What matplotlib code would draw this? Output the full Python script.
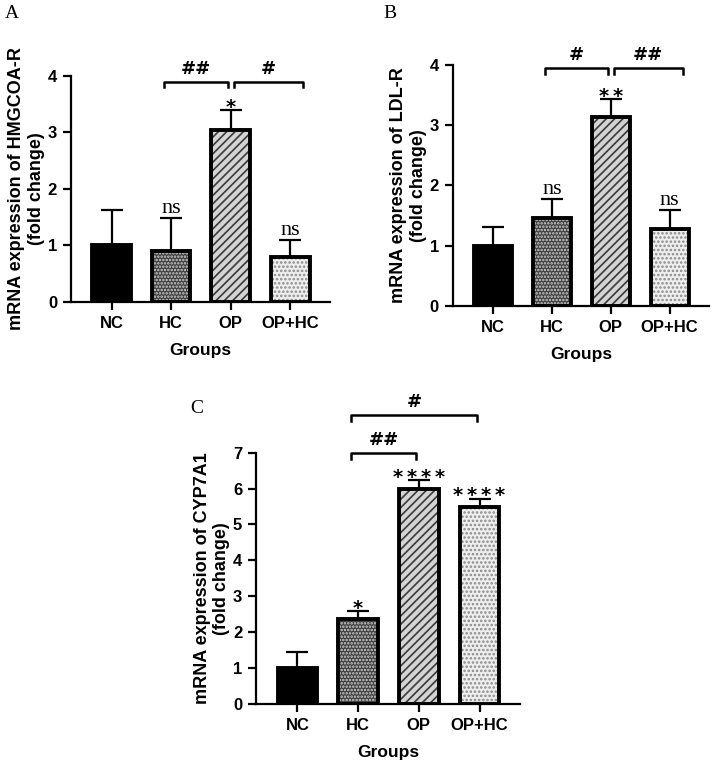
import matplotlib
matplotlib.use("Agg")
import matplotlib.pyplot as plt

plt.rcParams['font.family'] = ['Liberation Sans', 'DejaVu Sans']
plt.rcParams['hatch.linewidth'] = 1.2

groups = ['NC', 'HC', 'OP', 'OP+HC']

# panel A - HMGCOA-R
hmg_mean = [1.00, 0.91, 3.05, 0.80]
hmg_err = [0.62, 0.57, 0.34, 0.29]
hmg_marks = ['', 'ns', '*', 'ns']
hmg_brackets = [('HC', 'OP', '##', 3.9), ('OP', 'OP+HC', '#', 3.9)]

# panel B - LDL-R
ldl_mean = [1.00, 1.46, 3.13, 1.28]
ldl_err = [0.31, 0.31, 0.30, 0.31]
ldl_marks = ['', 'ns', '**', 'ns']
ldl_brackets = [('HC', 'OP', '#', 3.95), ('OP', 'OP+HC', '##', 3.95)]

# panel C - CYP7A1
cyp_mean = [1.00, 2.36, 6.00, 5.50]
cyp_err = [0.44, 0.23, 0.24, 0.22]
cyp_marks = ['', '*', '****', '****']
cyp_brackets = [('HC', 'OP', '##', 7.0), ('HC', 'OP+HC', '#', 8.05)]

faces = ['black', '#3e3e3e', '#d4d4d4', '#eeeeee']
hatch_cols = ['black', '#cfcfcf', '#3a3a3a', '#8a8a8a']
hatches = [None, '.....', '////', '....']


def draw_panel(ax, means, errs, marks, brackets, ymax, ylabel):
    x = list(range(len(groups)))
    w = 0.65
    ax.errorbar(x, means, yerr=[[0] * len(errs), errs], fmt='none',
                ecolor='black', elinewidth=1.6, capsize=8, capthick=1.6, zorder=1)
    for i in x:
        ax.bar(i, means[i], width=w, color=faces[i], edgecolor=hatch_cols[i],
               hatch=hatches[i], linewidth=0, zorder=2)
        ax.bar(i, means[i], width=w, fill=False, edgecolor='black',
               linewidth=2.8, zorder=3)
    for i in x:
        if marks[i] == '':
            continue
        top = means[i] + errs[i]
        if marks[i] == 'ns':
            ax.annotate('ns', (i, top), xytext=(0, 4), textcoords='offset points',
                        ha='center', va='baseline', fontsize=16, family='Liberation Serif')
        else:
            ax.annotate('\u2009'.join(marks[i]), (i, top), xytext=(0, -2),
                        textcoords='offset points', ha='center', va='baseline',
                        fontsize=14, fontweight='bold', family='DejaVu Sans')
    for a, b, lab, yb in brackets:
        i0 = groups.index(a) - 0.12
        i1 = groups.index(b) - 0.04
        if a == 'OP':
            i0 = groups.index(a) + 0.05
            i1 = groups.index(b) + 0.22
        h = ymax * 0.025
        ax.plot([i0, i0, i1, i1], [yb - h, yb, yb, yb - h], color='black',
                lw=1.8, clip_on=False, solid_joinstyle='round')
        ax.text((i0 + i1) / 2, yb + ymax * 0.015, lab, ha='center', va='bottom',
                fontsize=13, fontweight='bold', family='DejaVu Sans')
    ax.set_xlim(-0.68, 3.67)
    ax.set_ylim(0, ymax)
    ax.set_yticks(range(0, ymax + 1))
    ax.set_xticks(x)
    ax.set_xticklabels(groups)
    for s in ['top', 'right']:
        ax.spines[s].set_visible(False)
    for s in ['left', 'bottom']:
        ax.spines[s].set_linewidth(1.6)
    ax.tick_params(width=1.6, length=6, labelsize=12, pad=4)
    for t in ax.get_xticklabels() + ax.get_yticklabels():
        t.set_fontweight('bold')
    ax.set_xlabel('Groups', fontsize=12.5, fontweight='bold', labelpad=9)
    ax.set_ylabel(ylabel, fontsize=13, fontweight='bold', labelpad=2)


fig = plt.figure(figsize=(7.12, 7.7), dpi=100)
ax1 = fig.add_axes([0.0997, 0.6078, 0.364, 0.2935])
ax2 = fig.add_axes([0.636, 0.6026, 0.36, 0.313])
ax3 = fig.add_axes([0.3596, 0.0857, 0.371, 0.3264])

draw_panel(ax1, hmg_mean, hmg_err, hmg_marks, hmg_brackets, 4,
           'mRNA expression of HMGCOA-R\n(fold change)')
draw_panel(ax2, ldl_mean, ldl_err, ldl_marks, ldl_brackets, 4,
           'mRNA expression of LDL-R\n(fold change)')
draw_panel(ax3, cyp_mean, cyp_err, cyp_marks, cyp_brackets, 7,
           'mRNA expression of CYP7A1\n(fold change)')

for lab, px, py in [('A', 5, 5), ('B', 383, 5), ('C', 190, 400)]:
    fig.text(px / 712, 1 - py / 770, lab, ha='left', va='top', fontsize=14,
             family='Liberation Serif')

fig.savefig('out.png', dpi=100)
